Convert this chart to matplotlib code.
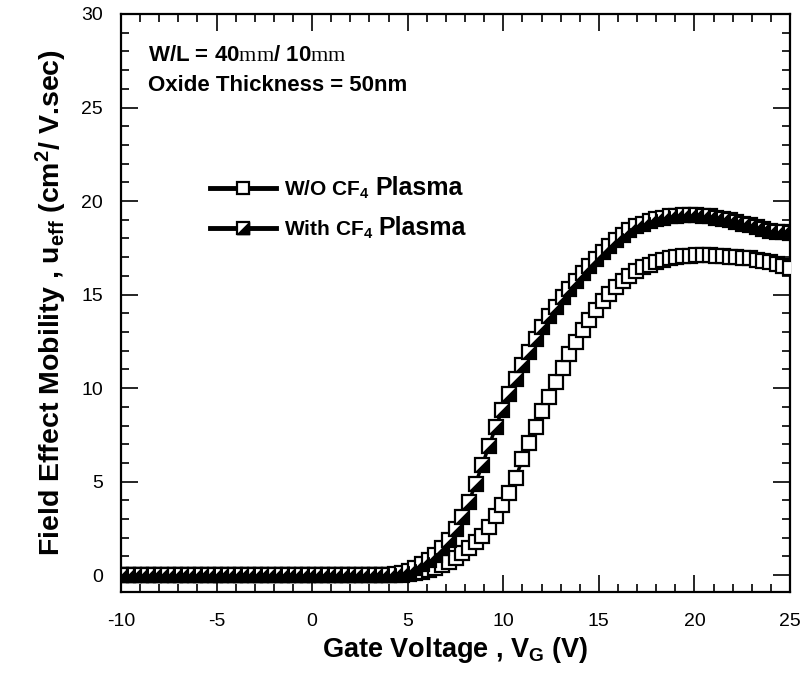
import numpy as np
import matplotlib
matplotlib.use("Agg")
import matplotlib.pyplot as plt
from matplotlib.lines import Line2D
from matplotlib.legend_handler import HandlerTuple
from matplotlib.ticker import MultipleLocator

plt.rcParams["font.family"] = ["Liberation Sans", "DejaVu Sans"]
plt.rcParams["axes.unicode_minus"] = False
plt.rcParams["mathtext.fontset"] = "custom"
plt.rcParams["mathtext.rm"] = "Liberation Serif"
plt.rcParams["mathtext.bf"] = "Liberation Sans:bold"
plt.rcParams["mathtext.it"] = "Liberation Sans:italic"

# Gate voltage sweep (V)
vg = np.linspace(-10, 25, 101)

# Field effect mobility (cm^2/V.s), 40 points of off-state followed by turn-on
mu_without = [0.0] * 40 + [
    0.0, 0.0, 0.02, 0.05, 0.1, 0.17, 0.26, 0.37, 0.52, 0.7,
    0.92, 1.18, 1.45, 1.75, 2.1, 2.6, 3.15, 3.75, 4.4, 5.2,
    6.2, 7.05, 7.9, 8.75, 9.55, 10.35, 11.1, 11.8, 12.45, 13.1,
    13.65, 14.15, 14.65, 15.05, 15.4, 15.7, 16.0, 16.25, 16.45, 16.6,
    16.75, 16.85, 16.95, 17.0, 17.05, 17.08, 17.1, 17.1, 17.1, 17.08,
    17.05, 17.02, 17.0, 16.97, 16.93, 16.87, 16.8, 16.72, 16.62, 16.52,
    16.4,
]
mu_with = [0.0] * 40 + [
    0.02, 0.05, 0.12, 0.22, 0.38, 0.58, 0.82, 1.1, 1.45, 1.9,
    2.45, 3.1, 3.9, 4.9, 5.9, 6.9, 7.9, 8.85, 9.7, 10.5,
    11.25, 11.95, 12.6, 13.25, 13.85, 14.35, 14.85, 15.3, 15.75, 16.15,
    16.55, 16.9, 17.25, 17.6, 17.9, 18.2, 18.45, 18.65, 18.8, 18.95,
    19.05, 19.12, 19.18, 19.22, 19.25, 19.25, 19.25, 19.22, 19.18, 19.12,
    19.05, 18.98, 18.9, 18.8, 18.7, 18.6, 18.5, 18.42, 18.36, 18.32,
    18.3,
]

label_without = r"W/O CF$_\mathbf{4}$"
label_with = r"With CF$_\mathbf{4}$"
label_tail = "Plasma"

fig = plt.figure(figsize=(8.07, 6.88), dpi=100)
ax = fig.add_axes([121 / 807, 1 - 592 / 688, (790 - 121) / 807, (592 - 14) / 688])

ms = 10
mew = 1.6
half_tri = [(1, 1), (1, -1), (-1, -1), (1, 1)]

ax.plot(vg, mu_without, color="black", lw=2.5, marker="s", ms=ms,
        mfc="white", mec="black", mew=mew, zorder=3)
ax.plot(vg, mu_with, color="black", lw=2.5, marker="s", ms=ms,
        mfc="white", mec="black", mew=mew, zorder=4)
ax.plot(vg, mu_with, color="none", lw=0, marker=half_tri, ms=ms,
        mfc="black", mec="black", mew=0.8, zorder=5)

ax.set_xlim(-10, 25)
ax.set_ylim(-0.9, 30)
ax.xaxis.set_major_locator(MultipleLocator(5))
ax.xaxis.set_minor_locator(MultipleLocator(1))
ax.yaxis.set_major_locator(MultipleLocator(5))
ax.yaxis.set_minor_locator(MultipleLocator(1))
ax.tick_params(which="both", direction="in", top=True, right=True,
               width=1.2, labelsize=14)
ax.tick_params(axis="x", which="both", pad=15)
ax.tick_params(axis="y", which="both", pad=13)
ax.tick_params(which="major", length=12)
ax.tick_params(which="minor", length=6)
for sp in ax.spines.values():
    sp.set_linewidth(1.6)

ax.set_xlabel(r"Gate Voltage , V$_\mathbf{G}$ (V)", fontsize=19.5,
              fontweight="bold", labelpad=4)
ax.set_ylabel(r"Field Effect Mobility , u$_\mathbf{eff}$ (cm$^\mathbf{2}$/ V.sec)",
              fontsize=20.5, fontweight="bold", labelpad=9)

ax.text(0.04, 0.918, r"W/L = 40$\mathrm{mm}$/ 10$\mathrm{mm}$",
        transform=ax.transAxes, fontsize=16, fontweight="bold")
ax.text(0.04, 0.867, "Oxide Thickness = 50nm",
        transform=ax.transAxes, fontsize=16, fontweight="bold")

h1 = Line2D([], [], color="black", lw=3.5, marker="s", ms=ms - 1,
            mfc="white", mec="black", mew=mew)
h2a = Line2D([], [], color="black", lw=3.5, marker="s", ms=ms - 1,
             mfc="white", mec="black", mew=mew)
h2b = Line2D([], [], color="none", lw=0, marker=half_tri, ms=ms - 1,
             mfc="black", mec="black", mew=0.8)
leg = ax.legend([h1, (h2a, h2b)], [label_without, label_with],
                handler_map={tuple: HandlerTuple(ndivide=1, pad=0)},
                loc="upper left", bbox_to_anchor=(0.12, 0.73),
                frameon=False, handlelength=3.2,
                handletextpad=0.35, labelspacing=0.85, numpoints=1,
                borderaxespad=0, prop={"weight": "bold", "size": 15})

fig.canvas.draw()
inv = fig.transFigure.inverted()
for t in leg.get_texts():
    bb = t.get_window_extent()
    x0, yb = t.get_transform().transform(t.get_position())
    fx, fy = inv.transform((bb.x1 + 6, yb))
    fig.text(fx, fy, label_tail, fontsize=18, fontweight="bold",
             va="baseline", ha="left")

fig.savefig("out.png", dpi=100)
